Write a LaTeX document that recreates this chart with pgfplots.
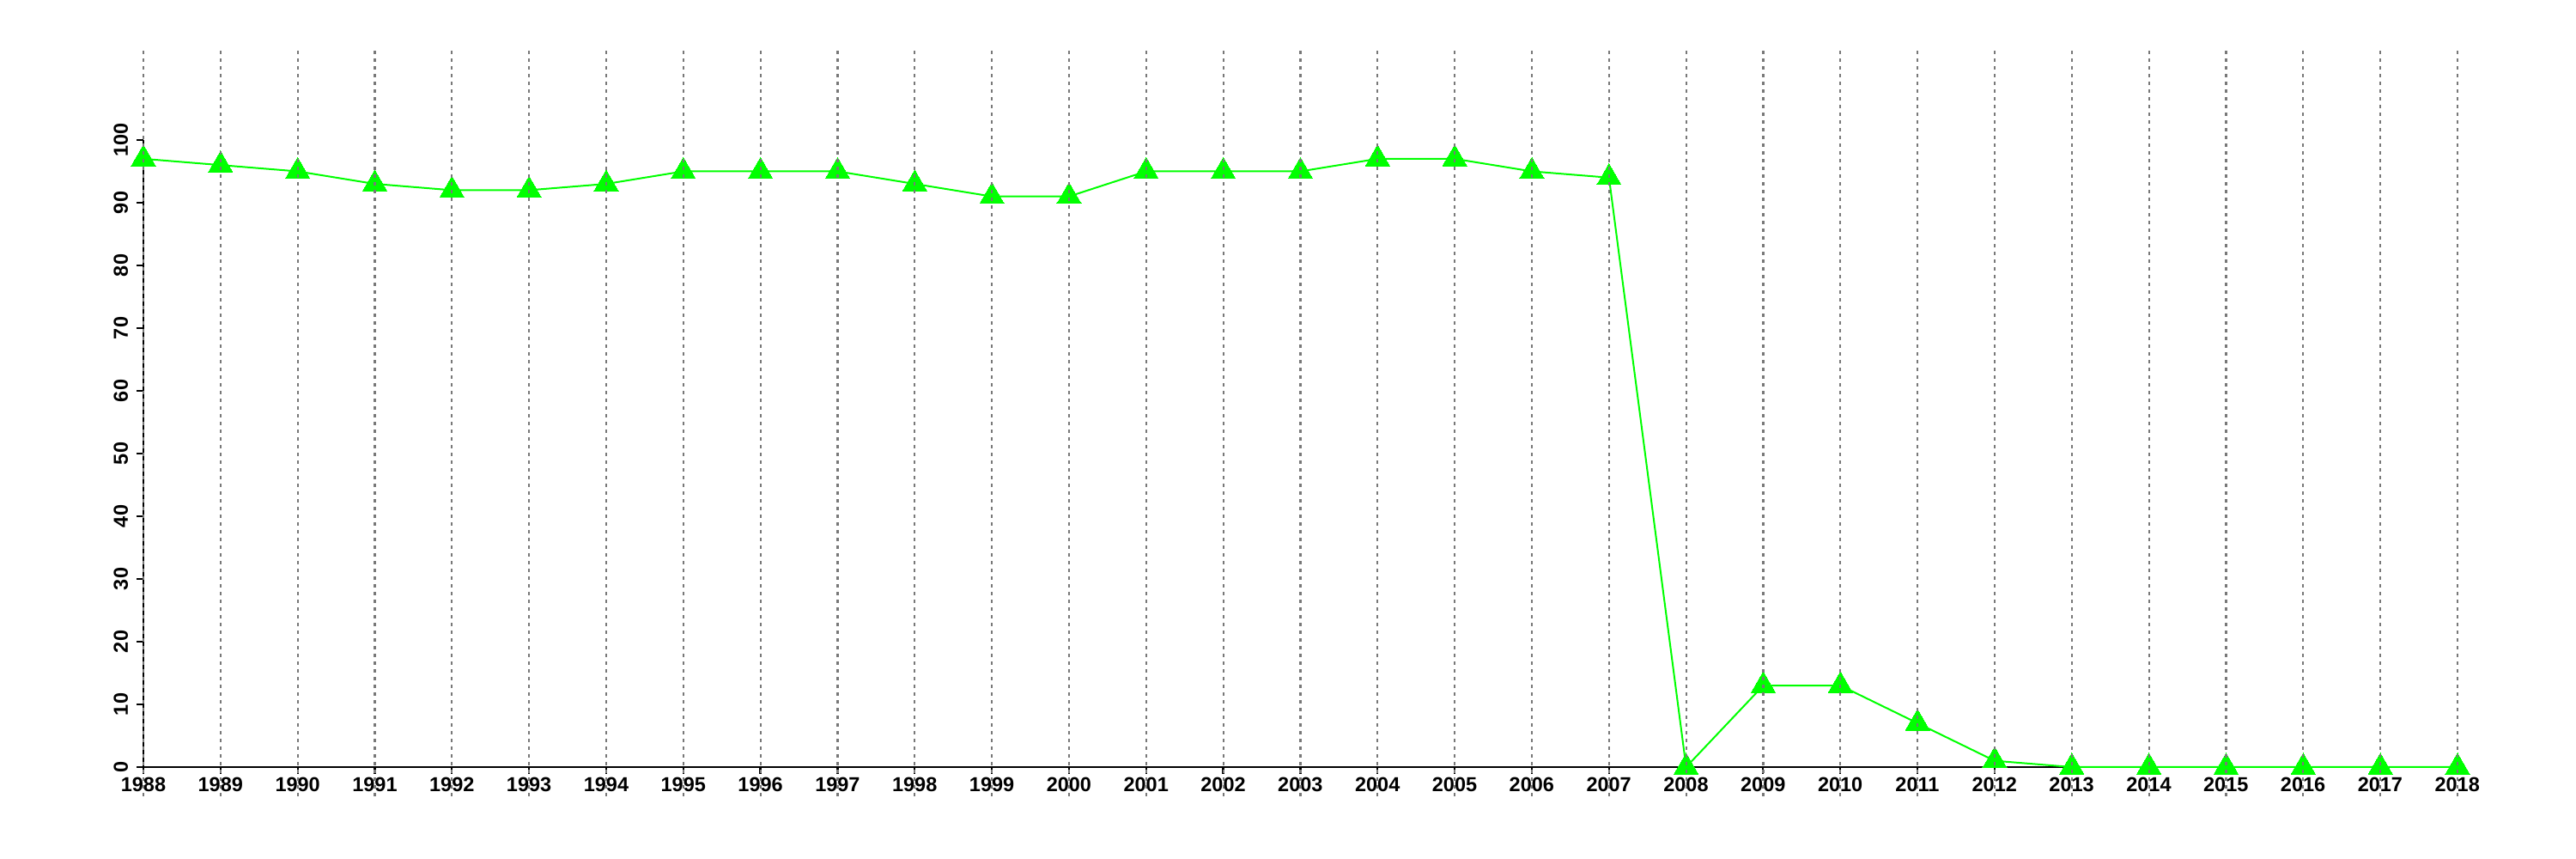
\documentclass[border=0pt]{standalone}
\usepackage{fontspec}
\setmainfont{Liberation Sans}
\usepackage{pgfplots}
\pgfplotsset{compat=1.18}
\definecolor{mygreen}{RGB}{0,255,0}
\definecolor{gridgray}{RGB}{120,120,120}
\begin{document}
\begin{tikzpicture}
\path[use as bounding box] (0,0) rectangle (600pt,200pt);
\begin{axis}[
 at={(33.4pt,21.4pt)}, anchor=south west,
 scale only axis, width=539pt, height=146pt,
 xmin=1988, xmax=2018, ymin=0, ymax=100,
 axis x line=bottom, axis y line=left,
 axis line style={line width=0.45pt, -, black},
 xtick={1988,...,2018}, ytick={0,10,...,100},
 tick align=outside, major tick length=1.6pt,
 tick style={black, line width=0.45pt},
 /pgf/number format/assume math mode=true,
 /pgf/number format/1000 sep={},
 x tick label style={font=\fontsize{4.7}{5}\selectfont\bfseries, inner sep=0pt, anchor=north},
 y tick label style={font=\fontsize{4.7}{5}\selectfont\bfseries, inner sep=0pt, rotate=90, anchor=south},
 xticklabel shift=0.6pt,
 yticklabel shift=1.8pt,
 clip=false,
 after end axis/.code={
   \foreach \yr in {1988,...,2018} {
     \draw[gridgray, line width=0.45pt, dash pattern=on 0.8pt off 1pt] (axis cs:\yr,-4.6) -- (axis cs:\yr,114.4);
   }
 },
]
\addplot[color=mygreen, line width=0.4pt, mark=triangle*, mark size=3.25pt, mark options={solid, fill=mygreen, draw=mygreen, line width=0pt}] coordinates {
(1988,97) (1989,96) (1990,95) (1991,93) (1992,92) (1993,92) (1994,93) (1995,95) (1996,95) (1997,95)
(1998,93) (1999,91) (2000,91) (2001,95) (2002,95) (2003,95) (2004,97) (2005,97) (2006,95) (2007,94)
(2008,0) (2009,13) (2010,13) (2011,7) (2012,1) (2013,0) (2014,0) (2015,0) (2016,0) (2017,0) (2018,0)
};
\end{axis}
\end{tikzpicture}
\end{document}
